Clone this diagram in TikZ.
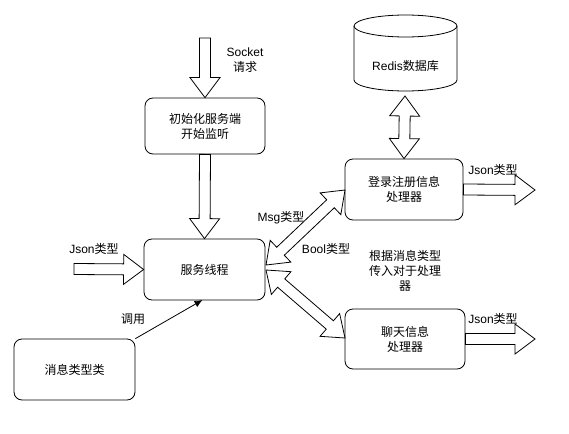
\documentclass[tikz,border=0pt]{standalone}
\usepackage{fontspec}
\setmainfont{Liberation Sans}
\newfontfamily\cjk{Noto Sans CJK SC}
\usetikzlibrary{calc,arrows.meta}
\tikzset{
  box/.style={draw,line width=0.8pt,rounded corners=8pt,minimum width=120pt,minimum height=60pt,align=center,inner sep=0pt,font=\fontsize{12pt}{15pt}\selectfont},
  blk/.style={draw,line width=0.8pt,fill=white,line join=miter},
  lbl/.style={font=\fontsize{12pt}{15pt}\selectfont,align=center,inner sep=0pt},
  conn/.style={draw,line width=0.8pt,-{Latex[length=8pt,width=7pt]}}
}
\newcommand\sblock[2]{%
  \coordinate (ba1) at ($(#2)!20pt!(#1)$);
  \draw[blk] ($(#1)!5.5pt!90:(#2)$) -- ($(ba1)!5.5pt!90:(#2)$) -- ($(ba1)!15pt!90:(#2)$) -- (#2)
   -- ($(ba1)!15pt!-90:(#2)$) -- ($(ba1)!5.5pt!-90:(#2)$) -- ($(#1)!5.5pt!-90:(#2)$) -- cycle;}
\newcommand\dblock[2]{%
  \coordinate (da1) at ($(#1)!20pt!(#2)$);
  \coordinate (da2) at ($(#2)!20pt!(#1)$);
  \draw[blk] (#1) -- ($(da1)!15pt!90:(#2)$) -- ($(da1)!5.5pt!90:(#2)$) -- ($(da2)!5.5pt!90:(#2)$)
   -- ($(da2)!15pt!90:(#2)$) -- (#2) -- ($(da2)!15pt!-90:(#2)$) -- ($(da2)!5.5pt!-90:(#2)$)
   -- ($(da1)!5.5pt!-90:(#2)$) -- ($(da1)!15pt!-90:(#2)$) -- cycle;}
\begin{document}
\begin{tikzpicture}[x=1pt,y=-1pt]
\useasboundingbox[fill=white] (0,0) rectangle (569,433);
% boxes
\node[box,minimum height=56pt] (init) at (205,126) {{\cjk 初始化服务端}\\{\cjk 开始监听}};
\node[box,minimum width=121pt,minimum height=61pt] (main) at (204.5,269.5) {\cjk 服务线程};
\node[box,minimum width=121pt,minimum height=61pt] (msgc) at (74.5,369.5) {\cjk 消息类型类};
\node[box,minimum width=118pt,minimum height=61pt] (login) at (404,189.5) {{\cjk 登录注册信息}\\{\cjk 处理器}};
\node[box] (chat) at (405,339) {{\cjk 聊天信息}\\{\cjk 处理器}};
% cylinder
\draw[line width=0.8pt,fill=white] (354,26) -- (354,80) arc[start angle=180,end angle=0,x radius=51.5,y radius=11] -- (457,26)
  arc[start angle=0,end angle=-180,x radius=51.5,y radius=11] -- cycle;
\draw[line width=0.8pt] (354,26) arc[start angle=180,end angle=0,x radius=51.5,y radius=11];
\node[lbl] (redis) at (405.5,66) {Redis{\cjk 数据库}};
% free ends
\coordinate (sockS) at (205,38);
\coordinate (jsonS) at (74,269);
\coordinate (ljE) at (535,190);
\coordinate (cjE) at (535,339);
\coordinate (redB) at (405,96);
\coordinate (mU) at (266,265);
\coordinate (mL) at (266,270);
\coordinate (lT) at (345,190);
\coordinate (cT) at (345,338);
% block arrows
\sblock{sockS}{init.north}
\sblock{init.south}{main.north}
\sblock{jsonS}{main.west}
\sblock{login.east}{ljE}
\sblock{chat.east}{cjE}
\dblock{redB}{login.north}
\dblock{mU}{lT}
\dblock{mL}{cT}
% call arrow
\coordinate (mcE) at (202.5,300);
\draw[conn] (msgc.north east) -- (mcE);
% labels
\node[lbl] (lsock) at (245,60) {Socket\\{\cjk 请求}};
\node[lbl] (ljson) at (94,249) {Json{\cjk 类型}};
\node[lbl] (lcall) at (133,319) {\cjk 调用};
\node[lbl] (lmsg) at (281,218) {Msg{\cjk 类型}};
\node[lbl] (lbool) at (326,249) {Bool{\cjk 类型}};
\node[lbl] (lnote) at (405,270.5) {{\cjk 根据消息类型}\\{\cjk 传入对于处理}\\{\cjk 器}};
\node[lbl] (lj1) at (493,170) {Json{\cjk 类型}};
\node[lbl] (lj2) at (493,319) {Json{\cjk 类型}};
\end{tikzpicture}
\end{document}
